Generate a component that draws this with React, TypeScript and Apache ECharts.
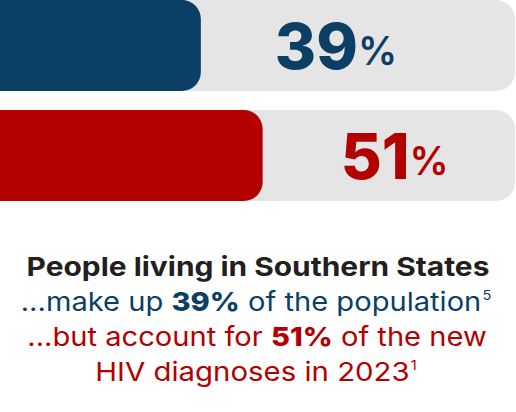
import React, { useEffect, useRef } from "react";
import * as echarts from "echarts";

const categories = ["Population", "New HIV diagnoses"];
const values = [39, 51];
const barColors = ["#0B3F66", "#B30000"];
const labelDistances = [74, 78];
const headline = "People living in Southern States";
const line2 = ["...make up ", "39%", " of the population", "5"];
const line3 = ["...but account for ", "51%", " of the new"];
const line4 = ["HIV diagnoses in 2023", "1"];

export default function App() {
  const ref = useRef<HTMLDivElement>(null);
  useEffect(() => {
    if (!ref.current) return;
    const chart = echarts.init(ref.current, undefined, { renderer: "svg" });
    const font = "Inter";
    const mkRich = (color: string) => ({
      r: { fontFamily: font, fontSize: 26, fill: color, fontWeight: 400 },
      b: { fontFamily: font, fontSize: 26, fill: color, fontWeight: 800 },
      s: { fontFamily: font, fontSize: 13, fill: color, fontWeight: 400, verticalAlign: "top", padding: [0, 0, 14, 1] },
    });
    chart.setOption({
      animation: false,
      grid: { left: 0, right: 1, top: 45.5, height: 110, containLabel: false },
      xAxis: { type: "value", min: 0, max: 100, show: false },
      yAxis: { type: "category", data: categories, inverse: true, show: false, boundaryGap: false },
      series: [
        {
          type: "bar",
          barWidth: 91,
          showBackground: true,
          backgroundStyle: { color: "#E5E5E5", borderRadius: [0, 19, 19, 0] },
          data: values.map((v, i) => ({
            value: v,
            itemStyle: { color: barColors[i], borderRadius: [0, 19, 19, 0] },
            label: {
              show: true,
              position: "right",
              distance: labelDistances[i],
              formatter: `{n|${v}}{p|%}`,
              rich: {
                n: { fontFamily: font, fontSize: 63, fontWeight: 800, color: barColors[i] },
                p: { fontFamily: font, fontSize: 39, fontWeight: 600, color: barColors[i], padding: [9, 0, 0, 0] },
              },
            },
          })),
        },
      ],
      graphic: [
        {
          type: "text",
          x: 258,
          y: 267,
          scaleX: 1.15,
          style: {
            text: headline,
            fontFamily: font,
            fontSize: 26,
            fontWeight: 700,
            fill: "#231F20",
            align: "center",
            verticalAlign: "middle",
          },
        },
        {
          type: "text",
          x: 256,
          y: 302,
          scaleX: 1.12,
          style: {
            text: `{r|${line2[0]}}{b|${line2[1]}}{r|${line2[2]}}{s|${line2[3]}}`,
            rich: mkRich("#0B3F66"),
            align: "center",
            verticalAlign: "middle",
          },
        },
        {
          type: "text",
          x: 257,
          y: 337,
          scaleX: 1.12,
          style: {
            text: `{r|${line3[0]}}{b|${line3[1]}}{r|${line3[2]}}`,
            rich: mkRich("#B30000"),
            align: "center",
            verticalAlign: "middle",
          },
        },
        {
          type: "text",
          x: 256,
          y: 372,
          scaleX: 1.13,
          style: {
            text: `{r|${line4[0]}}{s|${line4[1]}}`,
            rich: mkRich("#B30000"),
            align: "center",
            verticalAlign: "middle",
          },
        },
      ],
    });
    return () => chart.dispose();
  }, []);
  return (
    <div
      ref={ref}
      style={{ position: "absolute", left: 0, top: 0, width: 516, height: 412, background: "#fff" }}
    />
  );
}
